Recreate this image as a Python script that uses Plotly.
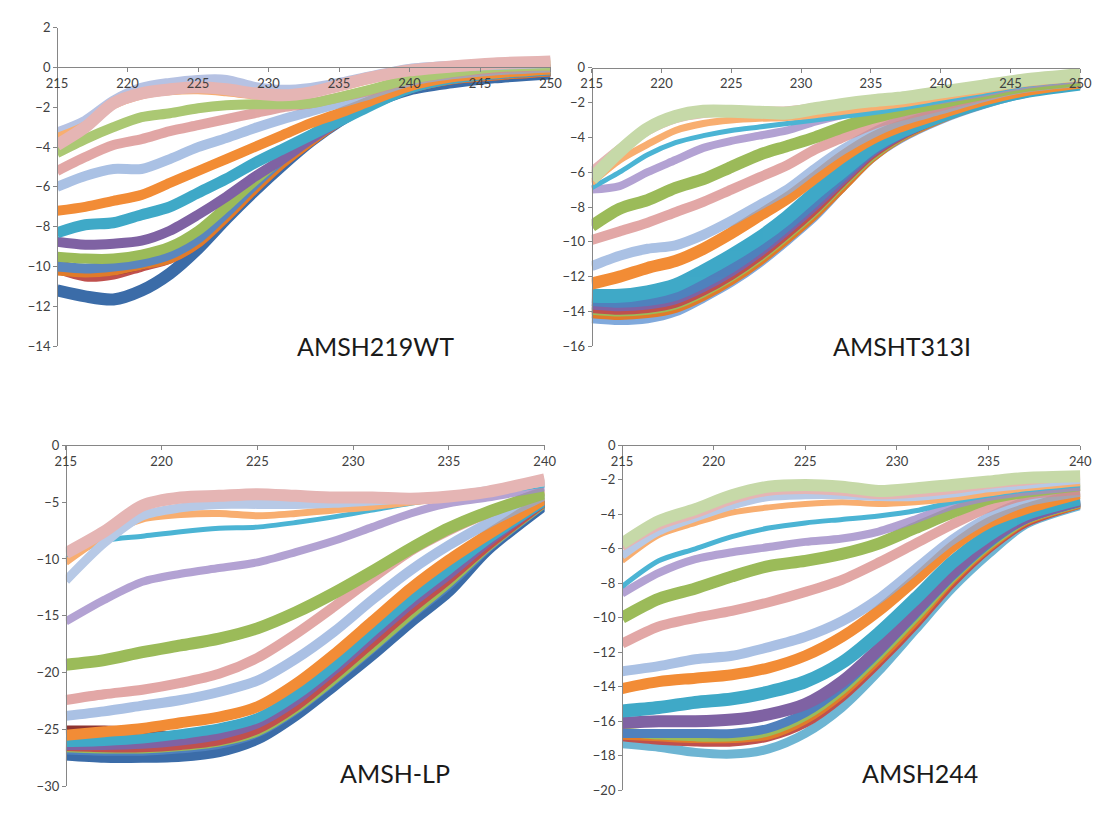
import plotly.graph_objects as go

# ---------------- data ----------------
# wavelengths (nm) at which values were read
WL_A = [215, 217, 219, 221, 223, 225, 227, 229, 231, 233, 235, 237, 240, 243, 246, 250]
WL_B = [215, 217, 219, 221, 223, 225, 227, 229, 231, 233, 235, 237, 240]

# Panel 1 : AMSH219WT  (series listed bottom -> top at 215 nm)
P1_NAMES = ["s1", "s2", "s3", "s4", "s5", "s6", "s7", "s8", "s9", "s10", "s11", "s12", "s13", "s14", "s15"]
P1_VALUES = [
    [-11.2, -11.5, -11.65, -11.2, -10.35, -9.1, -7.6, -6.2, -4.9, -3.7, -2.7, -1.9, -1.1, -0.75, -0.5, -0.3],
    [-10.1, -10.5, -10.4, -10.0, -9.6, -8.8, -7.5, -6.1, -4.8, -3.7, -2.7, -1.9, -1.05, -0.6, -0.4, -0.2],
    [-9.9, -10.2, -10.2, -9.9, -9.5, -8.7, -7.4, -6.0, -4.7, -3.6, -2.6, -1.85, -1.0, -0.55, -0.35, -0.15],
    [-10.2, -10.3, -10.2, -9.9, -9.6, -8.8, -7.5, -6.1, -4.8, -3.7, -2.7, -1.9, -1.05, -0.6, -0.4, -0.2],
    [-10.0, -10.1, -10.0, -9.8, -9.4, -8.6, -7.3, -5.9, -4.6, -3.5, -2.6, -1.8, -1.0, -0.55, -0.35, -0.15],
    [-9.5, -9.6, -9.6, -9.4, -9.0, -8.2, -7.0, -5.7, -4.5, -3.4, -2.5, -1.75, -0.95, -0.5, -0.3, -0.1],
    [-8.75, -8.9, -8.85, -8.7, -8.2, -7.4, -6.5, -5.5, -4.6, -3.6, -2.7, -1.9, -1.0, -0.55, -0.3, -0.1],
    [-8.3, -7.9, -7.8, -7.4, -7.0, -6.3, -5.6, -4.8, -4.1, -3.4, -2.7, -2.0, -1.05, -0.55, -0.3, -0.1],
    [-7.2, -7.0, -6.7, -6.4, -5.8, -5.2, -4.6, -4.0, -3.4, -2.8, -2.3, -1.75, -0.95, -0.5, -0.3, -0.1],
    [-6.0, -5.45, -5.1, -5.1, -4.6, -4.0, -3.55, -3.05, -2.6, -2.2, -1.8, -1.4, -0.7, -0.35, -0.15, 0.0],
    [-5.2, -4.5, -3.9, -3.6, -3.2, -2.9, -2.6, -2.3, -2.0, -1.8, -1.5, -1.2, -0.6, -0.25, -0.05, 0.1],
    [-4.3, -3.6, -3.0, -2.5, -2.3, -2.05, -1.9, -1.85, -1.85, -1.8, -1.5, -1.15, -0.6, -0.25, 0.0, 0.1],
    [-3.3, -2.7, -1.7, -1.05, -0.8, -0.65, -0.65, -1.0, -1.15, -1.05, -0.8, -0.5, -0.1, 0.05, 0.15, 0.25],
    [-3.5, -2.9, -1.9, -1.4, -1.2, -1.15, -1.25, -1.4, -1.45, -1.3, -1.0, -0.65, -0.2, 0.0, 0.15, 0.25],
    [-3.9, -3.0, -1.8, -1.3, -1.1, -1.0, -1.1, -1.3, -1.4, -1.25, -0.9, -0.55, -0.15, 0.05, 0.2, 0.3],
]

# Panel 2 : AMSHT313I
P2_VALUES = [
    [-14.4, -14.5, -14.4, -14.0, -13.2, -12.3, -11.2, -9.9, -8.5, -6.8, -5.2, -4.1, -2.95, -2.1, -1.45, -0.95],
    [-14.1, -14.2, -14.1, -13.8, -13.1, -12.2, -11.1, -9.8, -8.4, -6.8, -5.2, -4.05, -2.9, -2.05, -1.4, -0.95],
    [-13.9, -14.0, -13.9, -13.6, -12.9, -12.0, -10.9, -9.6, -8.2, -6.6, -5.1, -4.0, -2.85, -2.0, -1.35, -0.9],
    [-13.8, -13.9, -13.8, -13.5, -12.8, -11.9, -10.8, -9.5, -8.1, -6.5, -5.0, -3.95, -2.85, -2.0, -1.35, -0.9],
    [-13.6, -13.7, -13.6, -13.3, -12.6, -11.7, -10.6, -9.3, -7.9, -6.4, -4.9, -3.9, -2.8, -2.0, -1.35, -0.9],
    [-13.4, -13.5, -13.4, -13.1, -12.4, -11.5, -10.4, -9.1, -7.7, -6.2, -4.8, -3.85, -2.8, -1.95, -1.35, -0.9],
    [-13.1, -13.1, -12.9, -12.5, -11.7, -10.8, -9.8, -8.6, -7.2, -5.9, -4.6, -3.7, -2.75, -1.95, -1.35, -0.9],
    [-12.4, -12.0, -11.5, -11.1, -10.4, -9.5, -8.5, -7.5, -6.3, -5.1, -4.1, -3.4, -2.6, -1.85, -1.3, -0.85],
    [-11.4, -10.8, -10.4, -10.2, -9.6, -8.8, -7.9, -7.0, -5.8, -4.7, -3.8, -3.1, -2.4, -1.7, -1.15, -0.8],
    [-9.9, -9.4, -8.9, -8.3, -7.7, -7.0, -6.3, -5.6, -4.7, -4.0, -3.3, -2.8, -2.2, -1.6, -1.1, -0.75],
    [-9.1, -8.1, -7.6, -6.9, -6.4, -5.7, -5.0, -4.5, -4.0, -3.4, -2.9, -2.5, -2.0, -1.5, -1.05, -0.7],
    [-7.0, -6.8, -6.0, -5.3, -4.6, -4.2, -3.9, -3.6, -3.1, -2.7, -2.4, -2.2, -1.85, -1.45, -1.0, -0.65],
    [-6.9, -6.0, -5.0, -4.3, -3.9, -3.6, -3.4, -3.2, -3.0, -2.8, -2.6, -2.35, -1.9, -1.45, -1.0, -0.65],
    [-6.6, -5.3, -4.4, -3.6, -3.2, -3.0, -2.9, -2.85, -2.7, -2.5, -2.3, -2.1, -1.7, -1.3, -0.9, -0.6],
    [-6.0, -4.7, -3.6, -2.9, -2.6, -2.5, -2.5, -2.5, -2.3, -2.1, -1.95, -1.8, -1.45, -1.1, -0.75, -0.45],
    [-6.4, -4.8, -3.5, -2.8, -2.5, -2.5, -2.55, -2.6, -2.35, -2.1, -1.9, -1.75, -1.4, -1.05, -0.7, -0.4],
]

# Panel 3 : AMSH-LP
P3_VALUES = [
    [-27.2, -27.4, -27.4, -27.3, -26.9, -25.8, -23.7, -21.1, -18.4, -15.5, -12.8, -9.2, -5.2],
    [-25.0, -25.0, -25.2, -25.6, -25.6, -24.8, -22.8, -20.2, -17.3, -14.4, -11.7, -8.8, -5.0],
    [-26.8, -26.9, -26.9, -26.7, -26.3, -25.3, -23.3, -20.7, -17.9, -15.0, -12.3, -9.1, -5.1],
    [-26.6, -26.7, -26.7, -26.5, -26.1, -25.2, -23.2, -20.6, -17.8, -14.9, -12.1, -9.0, -5.1],
    [-26.5, -26.6, -26.6, -26.4, -26.0, -25.0, -23.0, -20.3, -17.4, -14.5, -11.8, -8.9, -5.0],
    [-26.4, -26.4, -26.3, -26.0, -25.5, -24.5, -22.5, -19.8, -16.9, -14.0, -11.4, -8.6, -4.9],
    [-26.1, -26.0, -25.8, -25.4, -24.9, -24.0, -22.0, -19.4, -16.4, -13.5, -10.9, -8.3, -4.9],
    [-25.5, -25.2, -24.9, -24.4, -23.9, -23.0, -21.0, -18.4, -15.5, -12.6, -10.1, -7.9, -4.7],
    [-23.8, -23.4, -22.9, -22.4, -21.7, -20.7, -18.8, -16.4, -13.6, -11.0, -8.8, -6.9, -4.4],
    [-22.4, -21.9, -21.5, -20.9, -20.1, -18.7, -16.6, -14.2, -11.7, -9.3, -7.5, -6.0, -4.0],
    [-19.3, -18.9, -18.2, -17.6, -17.0, -16.1, -14.7, -13.0, -11.1, -9.1, -7.3, -5.9, -4.2],
    [-15.5, -13.6, -12.0, -11.3, -10.8, -10.3, -9.4, -8.4, -7.2, -6.0, -5.1, -4.6, -3.7],
    [-10.0, -8.4, -8.0, -7.6, -7.3, -7.2, -6.8, -6.3, -5.7, -5.1, -4.6, -4.2, -3.5],
    [-10.3, -8.0, -6.5, -6.1, -6.0, -6.2, -6.0, -5.7, -5.4, -5.0, -4.6, -4.1, -3.3],
    [-11.9, -8.6, -6.2, -5.5, -5.2, -5.2, -5.2, -5.1, -4.9, -4.7, -4.5, -4.0, -3.2],
    [-9.5, -7.6, -5.3, -4.6, -4.45, -4.3, -4.45, -4.6, -4.6, -4.7, -4.5, -4.1, -3.0],
]

# Panel 4 : AMSH244
P4_VALUES = [
    [-17.3, -17.5, -17.8, -17.9, -17.6, -16.7, -15.2, -13.1, -10.7, -8.3, -6.3, -4.6, -3.5],
    [-16.9, -17.1, -17.2, -17.2, -16.9, -16.1, -14.6, -12.6, -10.4, -8.0, -6.0, -4.5, -3.4],
    [-16.8, -16.9, -17.0, -17.0, -16.8, -15.9, -14.4, -12.4, -10.2, -7.8, -5.9, -4.4, -3.4],
    [-16.6, -16.8, -16.9, -16.9, -16.6, -15.7, -14.2, -12.2, -10.0, -7.7, -5.8, -4.35, -3.35],
    [-16.7, -16.7, -16.7, -16.7, -16.4, -15.5, -14.0, -12.0, -9.8, -7.6, -5.7, -4.3, -3.3],
    [-16.1, -16.0, -16.0, -15.9, -15.6, -15.0, -13.7, -11.8, -9.6, -7.4, -5.5, -4.2, -3.2],
    [-15.4, -15.2, -14.9, -14.7, -14.3, -13.7, -12.6, -10.9, -8.9, -6.8, -5.2, -4.0, -3.1],
    [-14.1, -13.7, -13.5, -13.3, -12.9, -12.2, -11.1, -9.6, -7.8, -5.9, -4.5, -3.7, -2.8],
    [-13.1, -12.8, -12.4, -12.2, -11.7, -11.1, -10.2, -8.9, -7.2, -5.5, -4.2, -3.3, -2.7],
    [-11.5, -10.5, -10.0, -9.6, -9.1, -8.5, -7.8, -6.8, -5.7, -4.6, -3.6, -2.9, -2.6],
    [-10.0, -8.9, -8.3, -7.6, -7.0, -6.7, -6.3, -5.7, -4.8, -3.9, -3.1, -2.7, -2.3],
    [-8.6, -7.4, -6.6, -6.2, -5.9, -5.6, -5.4, -5.0, -4.3, -3.5, -3.0, -2.7, -2.4],
    [-8.2, -6.7, -6.0, -5.3, -4.8, -4.5, -4.3, -4.1, -3.8, -3.3, -2.9, -2.6, -2.3],
    [-6.7, -5.2, -4.5, -3.9, -3.6, -3.4, -3.3, -3.4, -3.3, -3.1, -2.8, -2.5, -2.2],
    [-6.4, -5.0, -4.2, -3.5, -3.0, -2.9, -2.9, -3.0, -3.0, -2.8, -2.5, -2.3, -2.0],
    [-5.9, -4.7, -4.0, -3.2, -2.7, -2.6, -2.7, -2.9, -2.8, -2.6, -2.3, -2.1, -1.8],
    [-5.7, -4.4, -3.7, -2.9, -2.4, -2.3, -2.4, -2.65, -2.5, -2.3, -2.1, -1.9, -1.8],
]

PANEL_TITLES = ["AMSH219WT", "AMSHT313I", "AMSH-LP", "AMSH244"]
X_TICKS_A = [215, 220, 225, 230, 235, 240, 245, 250]
X_TICKS_B = [215, 220, 225, 230, 235, 240]

# ---------------- styles ----------------
P1_STYLE = [("#3B6CA8", 12, 1), ("#C0504D", 10, 1), ("#8E3431", 10, 1), ("#E07B2A", 10, 1),
            ("#5A86BD", 10, 1), ("#9BBB59", 10, 1), ("#7F62A3", 10, 1), ("#3FA9C7", 11, 1),
            ("#F28C36", 10, 1), ("#8EACDB", 10, 0.75), ("#D98A88", 10, 0.75), ("#ABC874", 10, 1),
            ("#AEBCE0", 11, 0.9), ("#F8AE70", 8, 1), ("#E5B5B4", 12, 1)]
P2_STYLE = [("#6A9AD6", 10, 0.85), ("#E07B2A", 10, 1), ("#9BBB59", 10, 1), ("#C0504D", 10, 1),
            ("#7F62A3", 10, 1), ("#4F81BD", 10, 1), ("#3FA9C7", 14, 1), ("#F28C36", 12, 1),
            ("#8EACDB", 10, 0.75), ("#D98A88", 10, 0.75), ("#9BBB59", 12, 1), ("#A08BC8", 8, 0.8),
            ("#4BB4D4", 5, 1), ("#F8AE70", 7, 1), ("#E5B5B4", 10, 1), ("#C6D9A8", 13, 1)]
P3_STYLE = [("#3B6CA8", 12, 1), ("#8E3431", 8, 1), ("#4F81BD", 9, 1), ("#9BBB59", 9, 1),
            ("#C0504D", 9, 1), ("#7F62A3", 9, 1), ("#3FA9C7", 10, 1), ("#F28C36", 11, 1),
            ("#8EACDB", 10, 0.75), ("#D98A88", 10, 0.75), ("#9BBB59", 12, 1), ("#A08BC8", 8, 0.8),
            ("#4BB4D4", 5, 1), ("#F8AE70", 7, 1), ("#B7C9E6", 9, 1), ("#E5B5B4", 12, 1)]
P4_STYLE = [("#4AA3C9", 9, 0.8), ("#C0504D", 9, 1), ("#E07B2A", 9, 1), ("#9BBB59", 9, 1),
            ("#4F81BD", 9, 1), ("#7F62A3", 12, 1), ("#3FA9C7", 13, 1), ("#F28C36", 11, 1),
            ("#8EACDB", 10, 0.75), ("#D98A88", 10, 0.75), ("#9BBB59", 12, 1), ("#A08BC8", 8, 0.8),
            ("#4BB4D4", 5, 1), ("#F8AE70", 6, 1), ("#B7C9E6", 8, 1), ("#E5B5B4", 8, 1),
            ("#C6D9A8", 12, 1)]

W, H = 1106, 815
# pixel geometry of each panel: (x_left, x_right, y_top_px, y_bottom_px)
GEOM = [(47, 551, 20, 345), (593, 1092, 61, 345), (56, 545, 446, 794), (624, 1092, 446, 798)]
YRANGES = [(-14, 2), (-16, 0), (-30, 0), (-20, 0)]
DTICKS = [2, 2, 5, 2]
XRANGES = [(215, 250), (215, 250), (215, 240), (215, 240)]
LABEL_POS = [(372, 345), (910, 345), (392, 780), (928, 780)]

AXIS_COLOR = "#868686"
TICK_FONT = dict(family="Lato, Open Sans, sans-serif", size=13, color="#404040")

fig = go.Figure()

panels = [(WL_A, P1_VALUES, P1_STYLE), (WL_A, P2_VALUES, P2_STYLE),
          (WL_B, P3_VALUES, P3_STYLE), (WL_B, P4_VALUES, P4_STYLE)]

for i, (wl, vals, styles) in enumerate(panels):
    sfx = "" if i == 0 else str(i + 1)
    for v, (col, wd, op) in zip(vals, styles):
        fig.add_trace(go.Scatter(
            x=wl, y=v, mode="lines", xaxis="x" + sfx, yaxis="y" + sfx,
            line=dict(color=col, width=wd, shape="spline", smoothing=0.8),
            opacity=op, hoverinfo="skip", showlegend=False))

layout = dict(width=W, height=H, margin=dict(l=0, r=0, t=0, b=0),
              paper_bgcolor="white", plot_bgcolor="white", showlegend=False)

for i in range(4):
    xl, xr, yt, yb = GEOM[i]
    ymin, ymax = YRANGES[i]
    xdom = [xl / W, xr / W]
    ydom = [1 - yb / H, 1 - yt / H]
    zero_pos = ydom[0] + (0 - ymin) / (ymax - ymin) * (ydom[1] - ydom[0])
    sfx = "" if i == 0 else str(i + 1)
    xt = X_TICKS_A if XRANGES[i][1] == 250 else X_TICKS_B
    layout["xaxis" + sfx] = dict(
        domain=xdom, range=list(XRANGES[i]), anchor="free", position=zero_pos,
        side="bottom", tickmode="array", tickvals=xt, ticktext=[str(t) for t in xt],
        showline=True, linecolor=AXIS_COLOR, linewidth=1, ticks="outside", ticklen=4,
        tickcolor=AXIS_COLOR, showgrid=False, zeroline=False, tickfont=TICK_FONT,
        fixedrange=True)
    layout["yaxis" + sfx] = dict(
        domain=ydom, range=[ymin, ymax], anchor="free", position=xdom[0],
        side="left", dtick=DTICKS[i], tick0=0, showline=True, linecolor=AXIS_COLOR,
        linewidth=1, ticks="outside", ticklen=4, tickcolor=AXIS_COLOR,
        showgrid=False, zeroline=False, tickfont=TICK_FONT, fixedrange=True)

fig.update_layout(**layout)

for (px, py), title in zip(LABEL_POS, PANEL_TITLES):
    fig.add_annotation(text=title, x=px / W, y=1 - py / H, xref="paper", yref="paper",
                       showarrow=False, xanchor="center", yanchor="middle",
                       font=dict(family="Lato, Open Sans, sans-serif", size=25, color="#1a1a1a"))

fig.write_html("out.html")
